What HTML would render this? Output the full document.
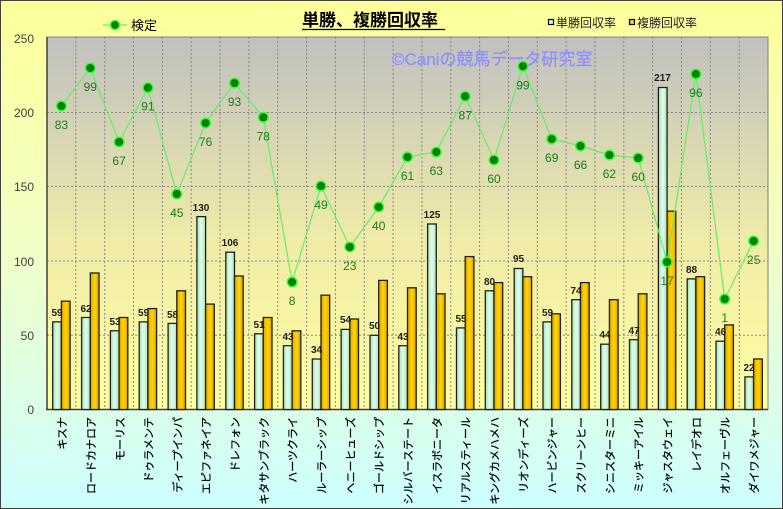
<!DOCTYPE html>
<html><head><meta charset="utf-8"><style>
body{margin:0;padding:0;}
svg{display:block;font-family:"Liberation Sans","Noto Sans CJK JP",sans-serif;}
</style></head><body>
<svg width="783" height="509" viewBox="0 0 783 509" xmlns="http://www.w3.org/2000/svg">
<defs>
<linearGradient id="bg" x1="0" y1="0" x2="0" y2="1">
<stop offset="0" stop-color="#ffff99"/><stop offset="0.5" stop-color="#f0ffc8"/><stop offset="1" stop-color="#ccffff"/></linearGradient>
<linearGradient id="pa" x1="0" y1="0" x2="0" y2="1">
<stop offset="0" stop-color="#c0c0c0"/><stop offset="0.55" stop-color="#f0eca8"/><stop offset="1" stop-color="#ffffa0"/></linearGradient>
<linearGradient id="gb" x1="0" y1="0" x2="1" y2="0">
<stop offset="0" stop-color="#a8e0b0"/><stop offset="0.5" stop-color="#e0fff0"/><stop offset="1" stop-color="#a8e0b0"/></linearGradient>
<linearGradient id="yb" x1="0" y1="0" x2="1" y2="0">
<stop offset="0" stop-color="#e0a000"/><stop offset="0.5" stop-color="#ffd800"/><stop offset="1" stop-color="#e0a000"/></linearGradient>
</defs>
<rect x="0.5" y="0.5" width="782" height="508" fill="url(#bg)" stroke="#404040"/>
<rect x="47" y="37" width="721" height="372.5" fill="url(#pa)"/>
<g stroke="#888" stroke-width="1" stroke-dasharray="2,2">
<line x1="47" y1="112.5" x2="768" y2="112.5"/><line x1="47" y1="186.5" x2="768" y2="186.5"/><line x1="47" y1="261" x2="768" y2="261"/><line x1="47" y1="335.3" x2="768" y2="335.3"/>
<line x1="75.8" y1="37" x2="75.8" y2="409"/><line x1="104.7" y1="37" x2="104.7" y2="409"/><line x1="133.5" y1="37" x2="133.5" y2="409"/><line x1="162.4" y1="37" x2="162.4" y2="409"/><line x1="191.2" y1="37" x2="191.2" y2="409"/><line x1="220" y1="37" x2="220" y2="409"/><line x1="248.9" y1="37" x2="248.9" y2="409"/><line x1="277.7" y1="37" x2="277.7" y2="409"/><line x1="306.6" y1="37" x2="306.6" y2="409"/><line x1="335.4" y1="37" x2="335.4" y2="409"/><line x1="364.2" y1="37" x2="364.2" y2="409"/><line x1="393.1" y1="37" x2="393.1" y2="409"/><line x1="421.9" y1="37" x2="421.9" y2="409"/><line x1="450.8" y1="37" x2="450.8" y2="409"/><line x1="479.6" y1="37" x2="479.6" y2="409"/><line x1="508.4" y1="37" x2="508.4" y2="409"/><line x1="537.3" y1="37" x2="537.3" y2="409"/><line x1="566.1" y1="37" x2="566.1" y2="409"/><line x1="595" y1="37" x2="595" y2="409"/><line x1="623.8" y1="37" x2="623.8" y2="409"/><line x1="652.6" y1="37" x2="652.6" y2="409"/><line x1="681.5" y1="37" x2="681.5" y2="409"/><line x1="710.3" y1="37" x2="710.3" y2="409"/><line x1="739.2" y1="37" x2="739.2" y2="409"/>
</g>
<rect x="47" y="37" width="721" height="372.5" fill="none" stroke="#808080"/>
<line x1="47" y1="37" x2="47" y2="410" stroke="#404040" stroke-width="1.5"/>
<line x1="46" y1="409.5" x2="768" y2="409.5" stroke="#404040" stroke-width="1.5"/>
<text x="392" y="65" font-size="17" fill="#9090ff" stroke="#9090ff" stroke-width="0.3">©Caniの競馬データ研究室</text>
<g font-size="12" fill="#404040" text-anchor="end">
<text x="34" y="43">250</text><text x="34" y="117">200</text><text x="34" y="191">150</text><text x="34" y="266">100</text><text x="34" y="340">50</text><text x="34" y="414">0</text>
</g>
<g stroke="#202020" stroke-width="1.3">
<g fill="url(#gb)">
<rect x="52.7" y="321.9" width="8.7" height="87.6"/><rect x="81.6" y="317.5" width="8.7" height="92"/><rect x="110.4" y="330.8" width="8.7" height="78.7"/><rect x="139.2" y="321.9" width="8.7" height="87.6"/><rect x="168.1" y="323.4" width="8.7" height="86.1"/><rect x="196.9" y="216.6" width="8.7" height="192.9"/><rect x="225.8" y="252.2" width="8.7" height="157.3"/><rect x="254.6" y="333.8" width="8.7" height="75.7"/><rect x="283.4" y="345.7" width="8.7" height="63.8"/><rect x="312.3" y="359" width="8.7" height="50.5"/><rect x="341.1" y="329.4" width="8.7" height="80.1"/><rect x="370" y="335.3" width="8.7" height="74.2"/><rect x="398.8" y="345.7" width="8.7" height="63.8"/><rect x="427.6" y="224" width="8.7" height="185.5"/><rect x="456.5" y="327.9" width="8.7" height="81.6"/><rect x="485.3" y="290.8" width="8.7" height="118.7"/><rect x="514.2" y="268.5" width="8.7" height="141"/><rect x="543" y="321.9" width="8.7" height="87.6"/><rect x="571.8" y="299.7" width="8.7" height="109.8"/><rect x="600.7" y="344.2" width="8.7" height="65.3"/><rect x="629.5" y="339.7" width="8.7" height="69.8"/><rect x="658.4" y="87.5" width="8.7" height="322"/><rect x="687.2" y="278.9" width="8.7" height="130.6"/><rect x="716" y="341.2" width="8.7" height="68.3"/><rect x="744.9" y="376.9" width="8.7" height="32.6"/>
</g>
<g fill="url(#yb)">
<rect x="61.4" y="301.2" width="8.7" height="108.3"/><rect x="90.3" y="273" width="8.7" height="136.5"/><rect x="119.1" y="317.5" width="8.7" height="92"/><rect x="147.9" y="308.6" width="8.7" height="100.9"/><rect x="176.8" y="290.8" width="8.7" height="118.7"/><rect x="205.6" y="304.1" width="8.7" height="105.4"/><rect x="234.5" y="276" width="8.7" height="133.5"/><rect x="263.3" y="317.5" width="8.7" height="92"/><rect x="292.1" y="330.8" width="8.7" height="78.7"/><rect x="321" y="295.2" width="8.7" height="114.3"/><rect x="349.8" y="319" width="8.7" height="90.5"/><rect x="378.7" y="280.4" width="8.7" height="129.1"/><rect x="407.5" y="287.8" width="8.7" height="121.7"/><rect x="436.3" y="293.8" width="8.7" height="115.7"/><rect x="465.2" y="256.6" width="8.7" height="152.9"/><rect x="494" y="282.6" width="8.7" height="126.9"/><rect x="522.9" y="276.7" width="8.7" height="132.8"/><rect x="551.7" y="313.8" width="8.7" height="95.7"/><rect x="580.5" y="282.6" width="8.7" height="126.9"/><rect x="609.4" y="299.7" width="8.7" height="109.8"/><rect x="638.2" y="293.8" width="8.7" height="115.7"/><rect x="667.1" y="211.2" width="8.7" height="198.3"/><rect x="695.9" y="276.7" width="8.7" height="132.8"/><rect x="724.7" y="324.9" width="8.7" height="84.6"/><rect x="753.6" y="359" width="8.7" height="50.5"/>
</g></g>
<g font-size="10" font-weight="bold" fill="#202020" text-anchor="middle">
<text x="57" y="316">59</text><text x="86" y="312">62</text><text x="115" y="325">53</text><text x="143.5" y="316">59</text><text x="172.5" y="318">58</text><text x="201" y="211">130</text><text x="230" y="246">106</text><text x="259" y="328">51</text><text x="288" y="340">43</text><text x="316.5" y="353">34</text><text x="345.5" y="323">54</text><text x="374.5" y="329">50</text><text x="403" y="340">43</text><text x="432" y="218">125</text><text x="461" y="322">55</text><text x="489.5" y="285">80</text><text x="518.5" y="262">95</text><text x="547.5" y="316">59</text><text x="576" y="294">74</text><text x="605" y="338">44</text><text x="634" y="334">47</text><text x="662.5" y="81">217</text><text x="691.5" y="273">88</text><text x="720.5" y="335">46</text><text x="749" y="371">22</text>
</g>
<polyline fill="none" stroke="#66ee66" stroke-width="1.2" points="61.4,106 90.3,68 119.1,142 147.9,87.7 176.8,194 205.6,123 234.5,83 263.3,117.3 292.1,282 321,186 349.8,247 378.7,207 407.5,157 436.3,152 465.2,96.3 494,160 522.9,66.3 551.7,139 580.5,146 609.4,155 638.2,158 667.1,262 695.9,74 724.7,299 753.6,241"/>
<g fill="#008000" stroke="#33ff33" stroke-width="1.5">
<circle cx="61.4" cy="106" r="4.8"/><circle cx="90.3" cy="68" r="4.8"/><circle cx="119.1" cy="142" r="4.8"/><circle cx="147.9" cy="87.7" r="4.8"/><circle cx="176.8" cy="194" r="4.8"/><circle cx="205.6" cy="123" r="4.8"/><circle cx="234.5" cy="83" r="4.8"/><circle cx="263.3" cy="117.3" r="4.8"/><circle cx="292.1" cy="282" r="4.8"/><circle cx="321" cy="186" r="4.8"/><circle cx="349.8" cy="247" r="4.8"/><circle cx="378.7" cy="207" r="4.8"/><circle cx="407.5" cy="157" r="4.8"/><circle cx="436.3" cy="152" r="4.8"/><circle cx="465.2" cy="96.3" r="4.8"/><circle cx="494" cy="160" r="4.8"/><circle cx="522.9" cy="66.3" r="4.8"/><circle cx="551.7" cy="139" r="4.8"/><circle cx="580.5" cy="146" r="4.8"/><circle cx="609.4" cy="155" r="4.8"/><circle cx="638.2" cy="158" r="4.8"/><circle cx="667.1" cy="262" r="4.8"/><circle cx="695.9" cy="74" r="4.8"/><circle cx="724.7" cy="299" r="4.8"/><circle cx="753.6" cy="241" r="4.8"/>
</g>
<g font-size="12" fill="#1a801a" text-anchor="middle">
<text x="61.4" y="129">83</text><text x="90.3" y="91">99</text><text x="119.1" y="165">67</text><text x="147.9" y="110.7">91</text><text x="176.8" y="217">45</text><text x="205.6" y="146">76</text><text x="234.5" y="106">93</text><text x="263.3" y="140.3">78</text><text x="292.1" y="305">8</text><text x="321" y="209">49</text><text x="349.8" y="270">23</text><text x="378.7" y="230">40</text><text x="407.5" y="180">61</text><text x="436.3" y="175">63</text><text x="465.2" y="119.3">87</text><text x="494" y="183">60</text><text x="522.9" y="89.3">99</text><text x="551.7" y="162">69</text><text x="580.5" y="169">66</text><text x="609.4" y="178">62</text><text x="638.2" y="181">60</text><text x="667.1" y="285">17</text><text x="695.9" y="97">96</text><text x="724.7" y="322">1</text><text x="753.6" y="264">25</text>
</g>
<g font-size="11" fill="#000" text-anchor="end" stroke="#000" stroke-width="0.25">
<text transform="translate(66,417) rotate(-90)">キスナ</text>
<text transform="translate(95,417) rotate(-90)">ロードカナロア</text>
<text transform="translate(124,417) rotate(-90)">モーリス</text>
<text transform="translate(152.5,417) rotate(-90)">ドゥラメンテ</text>
<text transform="translate(181.5,417) rotate(-90)">ディープインパ</text>
<text transform="translate(210,417) rotate(-90)">エピファネイア</text>
<text transform="translate(239,417) rotate(-90)">ドレフォン</text>
<text transform="translate(268,417) rotate(-90)">キタサンブラック</text>
<text transform="translate(296.5,417) rotate(-90)">ハーツクライ</text>
<text transform="translate(325.5,417) rotate(-90)">ルーラーシップ</text>
<text transform="translate(354.5,417) rotate(-90)">ヘニーヒューズ</text>
<text transform="translate(383,417) rotate(-90)">ゴールドシップ</text>
<text transform="translate(412,417) rotate(-90)">シルバーステート</text>
<text transform="translate(441,417) rotate(-90)">イスラボニータ</text>
<text transform="translate(469.5,417) rotate(-90)">リアルスティール</text>
<text transform="translate(498.5,417) rotate(-90)">キングカメハメハ</text>
<text transform="translate(527.5,417) rotate(-90)">リオンディーズ</text>
<text transform="translate(556,417) rotate(-90)">ハービンジャー</text>
<text transform="translate(585,417) rotate(-90)">スクリーンヒー</text>
<text transform="translate(614,417) rotate(-90)">シニスターミニ</text>
<text transform="translate(642.5,417) rotate(-90)">ミッキーアイル</text>
<text transform="translate(671.5,417) rotate(-90)">ジャスタウェイ</text>
<text transform="translate(700.5,417) rotate(-90)">レイデオロ</text>
<text transform="translate(729,417) rotate(-90)">オルフェーヴル</text>
<text transform="translate(758,417) rotate(-90)">ダイワメジャー</text>
</g>
<text x="302" y="26" font-size="17" font-weight="bold" fill="#000">単勝、複勝回収率</text>
<line x1="302" y1="29.5" x2="445" y2="29.5" stroke="#000" stroke-width="1.3"/>
<line x1="103" y1="25" x2="127" y2="25" stroke="#66ee66" stroke-width="1.2"/>
<circle cx="115" cy="25" r="4.5" fill="#008000" stroke="#33ff33" stroke-width="1.5"/>
<text x="131" y="30" font-size="13" fill="#000">検定</text>
<rect x="548.5" y="19.5" width="5" height="5" fill="#d0f8e0" stroke="#000" stroke-width="1.2"/>
<text x="556" y="27" font-size="12" fill="#202020">単勝回収率</text>
<rect x="629.5" y="19.5" width="5" height="5" fill="#ffcc00" stroke="#000" stroke-width="1.2"/>
<text x="637" y="27" font-size="12" fill="#202020">複勝回収率</text>
</svg>
</body></html>
